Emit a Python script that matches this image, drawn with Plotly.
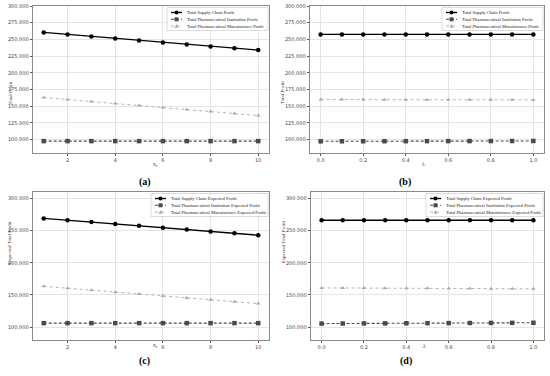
import plotly.graph_objects as go

# ---- data ----
n_s = [1, 2, 3, 4, 5, 6, 7, 8, 9, 10]
lam = [0.0, 0.1, 0.2, 0.3, 0.4, 0.5, 0.6, 0.7, 0.8, 0.9, 1.0]

a_supply = [260500, 257500, 254500, 251500, 248500, 245500, 242500, 239500, 236700, 234000]
a_inst = [97800, 97800, 97800, 97800, 97800, 97800, 97800, 97800, 97800, 97800]
a_manu = [163000, 160000, 157000, 154000, 151000, 148000, 145000, 142000, 139000, 136000]

b_supply = [257500, 257500, 257500, 257500, 257500, 257500, 257500, 257500, 257500, 257500, 257500]
b_inst = [97500, 97550, 97600, 97650, 97700, 97750, 97800, 97850, 97900, 97950, 98000]
b_manu = [160000, 159950, 159900, 159850, 159800, 159750, 159700, 159650, 159600, 159550, 159500]

c_supply = [269000, 266100, 263200, 260300, 257400, 254500, 251600, 248700, 245800, 242900]
c_inst = [106200, 106200, 106200, 106200, 106200, 106200, 106200, 106200, 106200, 106200]
c_manu = [163400, 160400, 157400, 154400, 151400, 148400, 145400, 142400, 139400, 136600]

d_supply = [266000, 266000, 266000, 266000, 266000, 266000, 266000, 266000, 266000, 266000, 266000]
d_inst = [105500, 105630, 105760, 105890, 106020, 106150, 106280, 106410, 106540, 106670, 106800]
d_manu = [161000, 160850, 160700, 160550, 160400, 160250, 160100, 159950, 159800, 159650, 159500]

names_ab = ["Total Supply Chain Profit", "Total Pharmaceutical Institution Profit",
            "Total Pharmaceutical Manufacturer Profit"]
names_cd = ["Total Supply Chain Expected Profit", "Total Pharmaceutical Institution Expected Profit",
            "Total Pharmaceutical Manufacturer Expected Profit"]
panel_labels = ["(a)", "(b)", "(c)", "(d)"]

W, H = 550, 376

styles = [
    dict(color="#000000", dash="solid", symbol="circle", width=1.4, size=4.5),
    dict(color="#4a4a4a", dash="3px,2px", symbol="square", width=1.1, size=4.5),
    dict(color="#ababab", dash="dot", symbol="triangle-up", width=0.9, size=4),
]

# panel geometry in pixels: left, right, top, bottom
panels = [
    dict(x=n_s, ys=[a_supply, a_inst, a_manu], names=names_ab, px=(33, 269, 6, 153),
         yr=[80000, 300000], xr=[0.55, 10.45], xt="<i>n</i><sub>s</sub>", yt="Total Profit",
         tv=[2, 4, 6, 8, 10], yv=[100000, 125000, 150000, 175000, 200000, 225000, 250000, 275000, 300000],
         legw=101),
    dict(x=lam, ys=[b_supply, b_inst, b_manu], names=names_ab, px=(310, 544, 6, 153),
         yr=[80000, 300000], xr=[-0.05, 1.05], xt="λ", yt="Total Profit",
         tv=[0, 0.2, 0.4, 0.6, 0.8, 1.0], yv=[100000, 125000, 150000, 175000, 200000, 225000, 250000, 275000, 300000],
         legw=101),
    dict(x=n_s, ys=[c_supply, c_inst, c_manu], names=names_cd, px=(33, 269, 192, 340),
         yr=[80000, 310000], xr=[0.55, 10.45], xt="<i>n</i><sub>s</sub>", yt="Expected Total Profit",
         tv=[2, 4, 6, 8, 10], yv=[100000, 150000, 200000, 250000, 300000],
         legw=117),
    dict(x=lam, ys=[d_supply, d_inst, d_manu], names=names_cd, px=(311, 544, 192, 340),
         yr=[80000, 310000], xr=[-0.05, 1.05], xt="λ", yt="Expected Total Profit",
         tv=[0, 0.2, 0.4, 0.6, 0.8, 1.0], yv=[100000, 150000, 200000, 250000, 300000],
         legw=117),
]


def fx(px):
    return px / W


def fy(py):
    return 1 - py / H


fig = go.Figure()
layout = dict(
    width=W, height=H, margin=dict(l=0, r=0, t=0, b=0, autoexpand=False),
    paper_bgcolor="white", plot_bgcolor="white", showlegend=False,
    font=dict(family="DejaVu Sans", size=5, color="#333"),
)
annotations = []
shapes = []

for i, p in enumerate(panels):
    k = "" if i == 0 else str(i + 1)
    L, R, T, B = p["px"]
    for j in range(3):
        s = styles[j]
        fig.add_trace(go.Scatter(
            x=p["x"], y=p["ys"][j], name=p["names"][j], mode="lines+markers",
            line=dict(color=s["color"], dash=s["dash"], width=s["width"]),
            marker=dict(symbol=s["symbol"], size=s["size"], color=s["color"]),
            xaxis="x" + k, yaxis="y" + k,
        ))
    axis_common = dict(showline=True, mirror=True, linecolor="#8a8a8a", linewidth=0.8,
                       showgrid=True, gridcolor="#e4e4e4", griddash="solid", gridwidth=0.6,
                       ticks="outside", ticklen=2.5, tickcolor="#555", zeroline=False,
                       tickfont=dict(family="DejaVu Sans", size=5, color="#444"))
    layout["xaxis" + k] = dict(domain=[fx(L), fx(R)], range=p["xr"], anchor="y" + k,
                               tickvals=p["tv"], tickformat=".1f" if i % 2 else "d", **axis_common)
    layout["yaxis" + k] = dict(domain=[fy(B), fy(T)], range=p["yr"], anchor="x" + k,
                               tickvals=p["yv"], tickformat=",d", **axis_common)

    # axis titles
    annotations.append(dict(text=p["xt"], x=fx((L + R) / 2), y=fy(B + 11), xref="paper", yref="paper",
                            showarrow=False, font=dict(family="Liberation Serif", size=5.5, color="#333")))
    annotations.append(dict(text=p["yt"], x=fx(L - 28), y=fy((T + B) / 2), xref="paper", yref="paper",
                            textangle=-90, showarrow=False,
                            font=dict(family="Liberation Serif", size=5, color="#333")))
    # panel label
    annotations.append(dict(text="<b>" + panel_labels[i] + "</b>", x=fx((L + R) / 2 - 14),
                            y=fy(B + 29), xref="paper", yref="paper", showarrow=False,
                            font=dict(family="Liberation Serif", size=10, color="#000")))

    # custom legend
    lx1 = R - 1
    lx0 = lx1 - p["legw"]
    ly0 = T + 1.5
    ly1 = ly0 + 23
    shapes.append(dict(type="rect", xref="paper", yref="paper", x0=fx(lx0), x1=fx(lx1), y0=fy(ly1), y1=fy(ly0),
                       line=dict(color="#c4c4c4", width=0.6), fillcolor="rgba(255,255,255,0.9)", layer="above"))
    for j in range(3):
        s = styles[j]
        ry = ly0 + 5 + j * 6.8
        shapes.append(dict(type="line", xref="paper", yref="paper", x0=fx(lx0 + 4), x1=fx(lx0 + 15),
                           y0=fy(ry), y1=fy(ry), layer="above",
                           line=dict(color=s["color"], width=s["width"], dash=s["dash"])))
        mx, my = fx(lx0 + 9.5), fy(ry)
        common = dict(xref="paper", yref="paper", xsizemode="pixel", ysizemode="pixel",
                      xanchor=mx, yanchor=my, fillcolor=s["color"], line=dict(width=0), layer="above")
        if s["symbol"] == "circle":
            shapes.append(dict(type="circle", x0=-2, x1=2, y0=-2, y1=2, **common))
        elif s["symbol"] == "square":
            shapes.append(dict(type="rect", x0=-2, x1=2, y0=-2, y1=2, **common))
        else:
            shapes.append(dict(type="path", path="M -2,-1.6 L 2,-1.6 L 0,2 Z", **common))
        annotations.append(dict(text=p["names"][j], x=fx(lx0 + 18), y=fy(ry), xref="paper", yref="paper",
                                xanchor="left", yanchor="middle", showarrow=False,
                                font=dict(family="Liberation Serif", size=4.6, color="#222")))

layout["annotations"] = annotations
layout["shapes"] = shapes
fig.update_layout(**layout)
fig.write_html("out.html", config={"displayModeBar": False},
               post_script="document.body.style.margin='0';document.body.style.overflow='hidden';")
